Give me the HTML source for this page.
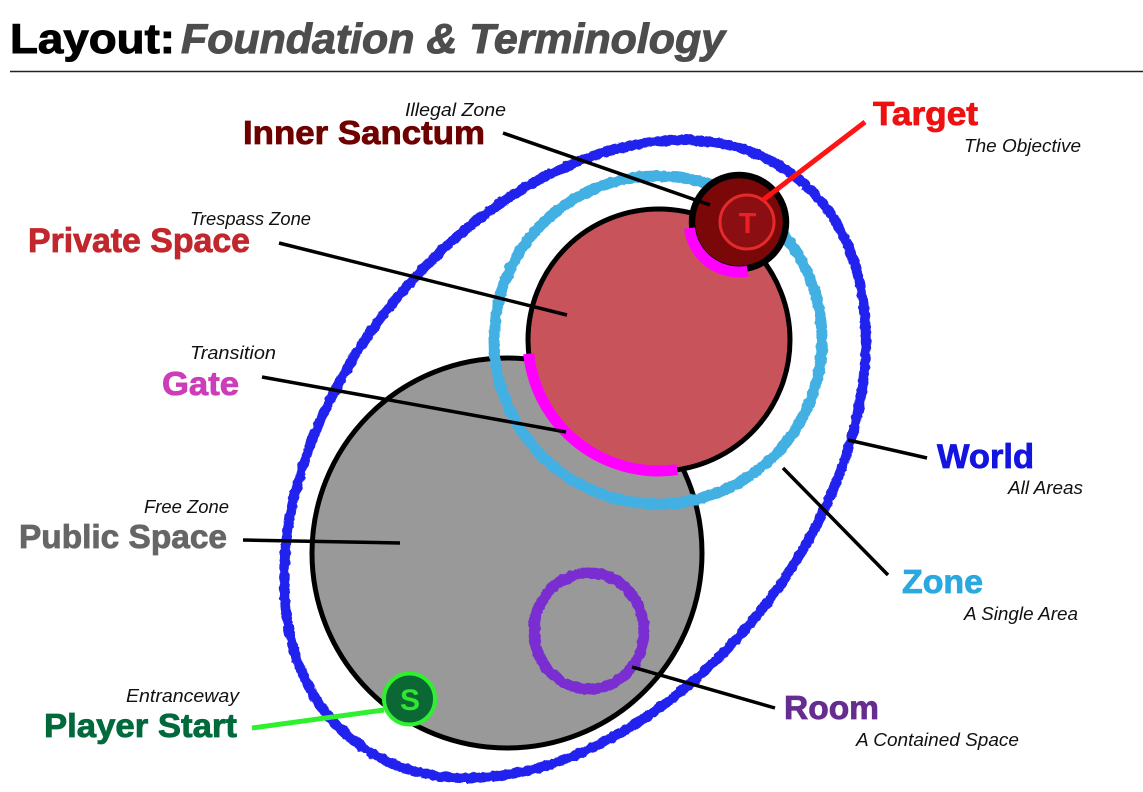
<!DOCTYPE html>
<html><head><meta charset="utf-8"><style>
html,body{margin:0;padding:0;background:#fff;width:1143px;height:792px;overflow:hidden;}
svg{display:block;overflow:hidden;}
text{font-family:"Liberation Sans",sans-serif;}
.b{font-weight:bold;}
.i{font-style:italic;fill:#111;}
</style></head><body>
<svg width="1143" height="792" viewBox="0 0 1143 792" xmlns="http://www.w3.org/2000/svg">
<defs>
<filter id="rough" filterUnits="userSpaceOnUse" x="0" y="80" width="1143" height="705">
<feTurbulence type="fractalNoise" baseFrequency="0.16" numOctaves="2" seed="4" result="n"/>
<feDisplacementMap in="SourceGraphic" in2="n" scale="4" xChannelSelector="R" yChannelSelector="G"/>
</filter>
</defs>
<rect width="1143" height="792" fill="#fff"/>

<!-- Title -->
<text x="10" y="53" class="b" font-size="42" fill="#000" stroke="#000" stroke-width="1" textLength="165" lengthAdjust="spacingAndGlyphs">Layout:</text>
<text x="181" y="53" class="b" font-size="42" font-style="italic" fill="#4d4d4d" stroke="#4d4d4d" stroke-width="1" textLength="544" lengthAdjust="spacingAndGlyphs">Foundation &amp; Terminology</text>
<line x1="10" y1="71.5" x2="1143" y2="71.5" stroke="#222" stroke-width="1.6"/>

<!-- World -->
<path d="M 795.4 176.9 A 358 238 -52 1 1 354.6 741.1 A 358 238 -52 1 1 795.4 176.9 Z" fill="none" stroke="#2323ee" stroke-width="10" filter="url(#rough)"/>

<!-- Public space -->
<circle cx="507" cy="553" r="195" fill="#999999" stroke="#000" stroke-width="5"/>

<!-- Zone ring -->
<circle cx="658" cy="340" r="164" fill="none" stroke="#42b0e2" stroke-width="11" filter="url(#rough)"/>

<!-- Private space -->
<circle cx="659" cy="340" r="131" fill="#c9535a" stroke="#000" stroke-width="5"/>

<!-- Inner sanctum -->
<circle cx="739" cy="222" r="47" fill="#7a0808" stroke="#000" stroke-width="6.5"/>
<circle cx="747" cy="222" r="27" fill="#8a0e12" stroke="#e52a2a" stroke-width="3"/>
<text x="747.5" y="233" class="b" font-size="29" fill="#ea2027" text-anchor="middle">T</text>

<!-- Magenta gates -->
<path d="M 677.2 469.7 A 131 131 0 0 1 528.7 353.7" fill="none" stroke="#ff00ff" stroke-width="11"/>
<path d="M 747.7 271.2 A 50 50 0 0 1 689.4 228.1" fill="none" stroke="#ff00ff" stroke-width="11"/>

<!-- Room ring -->
<ellipse cx="589" cy="631" rx="55" ry="58" fill="none" stroke="#7a2ed2" stroke-width="11" filter="url(#rough)"/>

<!-- Player start -->
<circle cx="409.5" cy="699" r="25.5" fill="#0b6834" stroke="#2ef02e" stroke-width="4"/>
<text x="410" y="710" class="b" font-size="30" fill="#33e533" text-anchor="middle">S</text>

<!-- Connector lines -->
<line x1="503" y1="133" x2="710" y2="205" stroke="#000" stroke-width="3.5"/>
<line x1="865" y1="122" x2="763" y2="200" stroke="#ff1414" stroke-width="5"/>
<line x1="279" y1="243" x2="567" y2="315" stroke="#000" stroke-width="3.5"/>
<line x1="262" y1="377" x2="566" y2="432" stroke="#000" stroke-width="3.5"/>
<line x1="243" y1="540" x2="400" y2="543" stroke="#000" stroke-width="3.5"/>
<line x1="252" y1="728" x2="384" y2="710" stroke="#2ef02e" stroke-width="5"/>
<line x1="848" y1="440" x2="927" y2="458" stroke="#000" stroke-width="3.5"/>
<line x1="783" y1="468" x2="888" y2="575" stroke="#000" stroke-width="3.5"/>
<line x1="632" y1="667" x2="775" y2="708" stroke="#000" stroke-width="3.5"/>

<!-- Labels -->
<text x="405" y="116" class="i" font-size="18" textLength="101" lengthAdjust="spacingAndGlyphs">Illegal Zone</text>
<text x="243" y="144" class="b" font-size="33" fill="#6e0000" stroke="#6e0000" stroke-width="0.8" textLength="242" lengthAdjust="spacingAndGlyphs">Inner Sanctum</text>

<text x="190" y="225" class="i" font-size="18" textLength="121" lengthAdjust="spacingAndGlyphs">Trespass Zone</text>
<text x="28" y="252" class="b" font-size="34" fill="#c1272d" stroke="#c1272d" stroke-width="0.8" textLength="222" lengthAdjust="spacingAndGlyphs">Private Space</text>

<text x="190" y="359" class="i" font-size="18" textLength="86" lengthAdjust="spacingAndGlyphs">Transition</text>
<text x="162" y="395" class="b" font-size="33" fill="#cc3dba" stroke="#cc3dba" stroke-width="0.8" textLength="77" lengthAdjust="spacingAndGlyphs">Gate</text>

<text x="144" y="513" class="i" font-size="18" textLength="85" lengthAdjust="spacingAndGlyphs">Free Zone</text>
<text x="19" y="548" class="b" font-size="33" fill="#666666" stroke="#666666" stroke-width="0.8" textLength="208" lengthAdjust="spacingAndGlyphs">Public Space</text>

<text x="126" y="702" class="i" font-size="18" textLength="113" lengthAdjust="spacingAndGlyphs">Entranceway</text>
<text x="44" y="737" class="b" font-size="33" fill="#006a3c" stroke="#006a3c" stroke-width="0.8" textLength="193" lengthAdjust="spacingAndGlyphs">Player Start</text>

<text x="873" y="125" class="b" font-size="33" fill="#ee1111" stroke="#ee1111" stroke-width="0.8" textLength="105" lengthAdjust="spacingAndGlyphs">Target</text>
<text x="964" y="152" class="i" font-size="18" textLength="117" lengthAdjust="spacingAndGlyphs">The Objective</text>

<text x="937" y="468" class="b" font-size="34" fill="#1414e0" stroke="#1414e0" stroke-width="0.8" textLength="97" lengthAdjust="spacingAndGlyphs">World</text>
<text x="1008" y="494" class="i" font-size="18" textLength="75" lengthAdjust="spacingAndGlyphs">All Areas</text>

<text x="902" y="593" class="b" font-size="33" fill="#2aa9e0" stroke="#2aa9e0" stroke-width="0.8" textLength="81" lengthAdjust="spacingAndGlyphs">Zone</text>
<text x="964" y="620" class="i" font-size="18" textLength="114" lengthAdjust="spacingAndGlyphs">A Single Area</text>

<text x="784" y="719" class="b" font-size="33" fill="#662d91" stroke="#662d91" stroke-width="0.8" textLength="95" lengthAdjust="spacingAndGlyphs">Room</text>
<text x="856" y="746" class="i" font-size="18" textLength="163" lengthAdjust="spacingAndGlyphs">A Contained Space</text>
</svg>
</body></html>
